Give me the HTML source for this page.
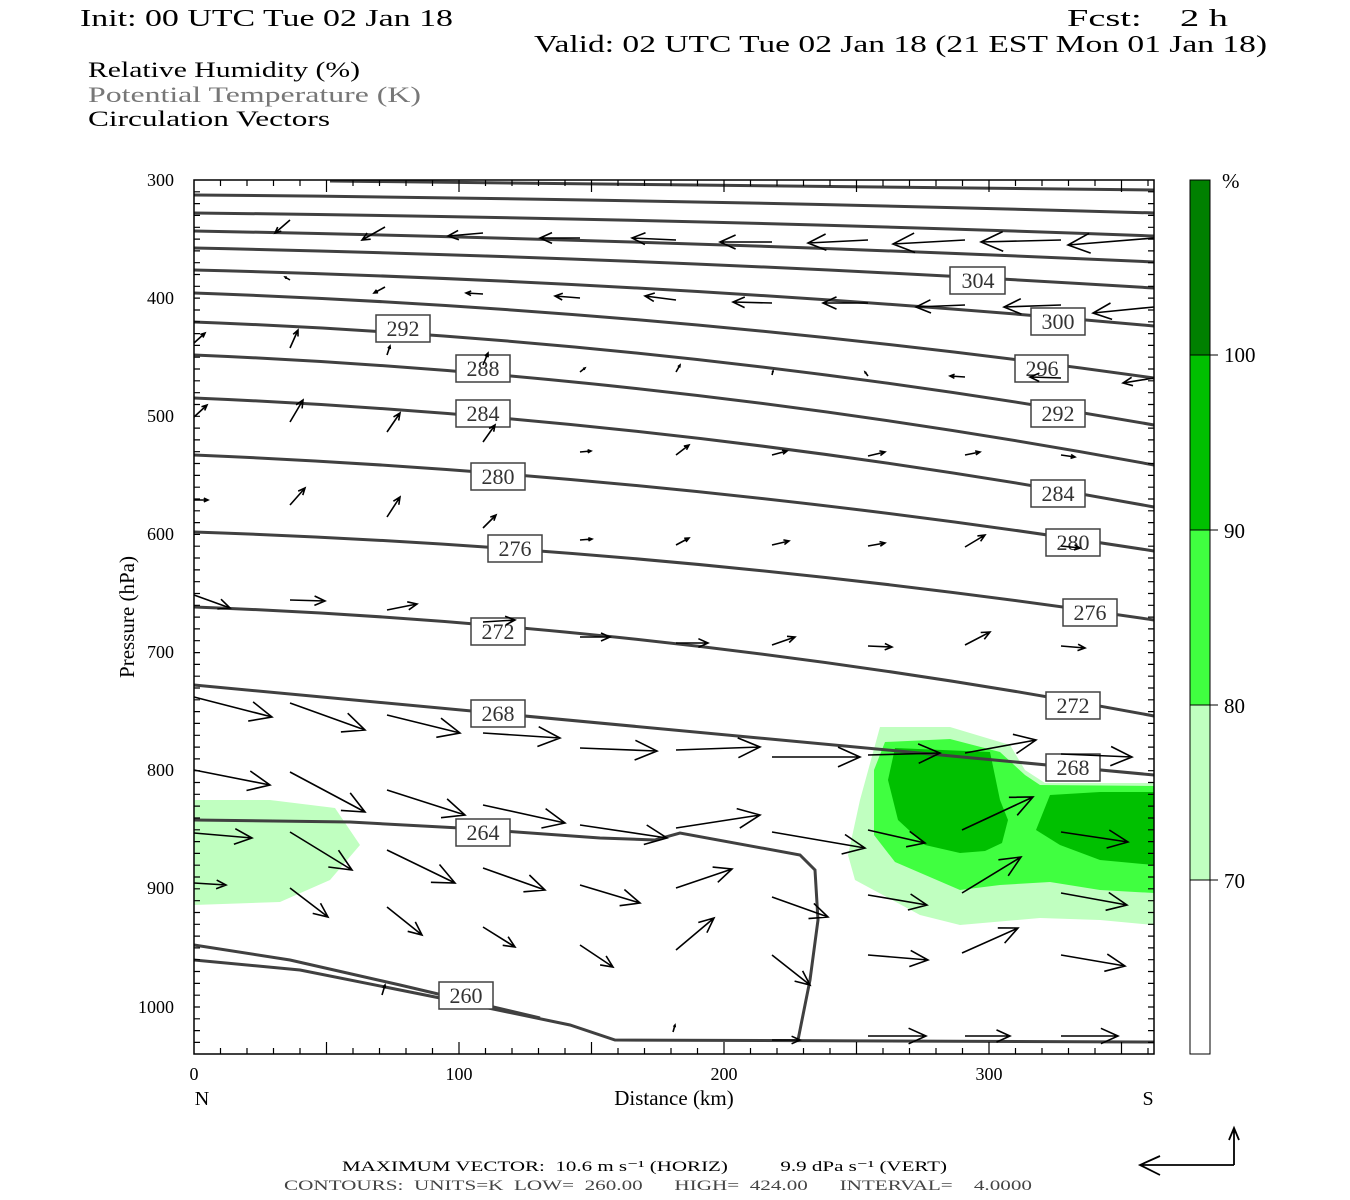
<!DOCTYPE html>
<html><head><meta charset="utf-8"><style>
html,body{margin:0;padding:0;background:#fff;}
svg{display:block;font-family:"Liberation Serif",serif;}
svg text{white-space:pre;}
</style></head><body>
<svg id="s" width="1350" height="1200" viewBox="0 0 1350 1200" xmlns="http://www.w3.org/2000/svg" xml:space="preserve">
<rect width="1350" height="1200" fill="#fff"/>
<text x="80" y="26" font-size="24" textLength="373" lengthAdjust="spacingAndGlyphs">Init: 00 UTC Tue 02 Jan 18</text>
<text x="1067" y="26" font-size="24" textLength="161" lengthAdjust="spacingAndGlyphs">Fcst:    2 h</text>
<text x="534" y="52" font-size="24" textLength="733" lengthAdjust="spacingAndGlyphs">Valid: 02 UTC Tue 02 Jan 18 (21 EST Mon 01 Jan 18)</text>
<text x="88" y="77" font-size="22" textLength="272" lengthAdjust="spacingAndGlyphs">Relative Humidity (%)</text>
<text x="88" y="102" font-size="22" fill="#777" textLength="333" lengthAdjust="spacingAndGlyphs">Potential Temperature (K)</text>
<text x="88" y="126" font-size="22" textLength="242" lengthAdjust="spacingAndGlyphs">Circulation Vectors</text>

<g stroke="none">
<polygon fill="#c0ffc0" points="194,800 270,800 335,808 360,845 330,880 280,902 194,905"/>
<polygon fill="#c0ffc0" points="880,727 950,727 1010,745 1025,770 1045,783 1154,783 1154,925 1100,920 1040,918 960,925 920,915 855,880 848,855 860,800"/>
<polygon fill="#40ff40" points="885,742 950,739 1000,752 1025,775 1040,785 1154,786 1154,893 1100,890 1050,882 1000,885 960,890 895,862 874,835 874,770"/>
<polygon fill="#00c000" points="895,748 990,752 1000,800 1008,820 1002,843 985,851 960,853 925,845 898,820 888,780"/>
<polygon fill="#00c000" points="1050,795 1100,792 1154,792 1154,865 1100,860 1060,845 1036,830"/>
</g>

<g fill="none" stroke="#404040" stroke-width="3">
<path d="M330,181 Q740,184 1154,190"/>
<path d="M194,195 Q670,199 1154,213"/>
<path d="M194,213 Q670,218 1154,236"/>
<path d="M194,231 Q670,240 1154,262"/>
<path d="M194,248 Q670,258 1154,288"/>
<path d="M194,270 Q670,282 1154,326"/>
<path d="M194,293 Q670,310 1154,378"/>
<path d="M194,322 Q670,340 1154,425"/>
<path d="M194,355 Q670,375 1154,465"/>
<path d="M194,398 Q670,418 1154,507"/>
<path d="M194,455 Q670,475 1154,551"/>
<path d="M194,532 Q670,548 1154,620"/>
<path d="M194,607 Q670,625 1154,716"/>
<path d="M194,685 Q670,730 1154,775"/>
<path d="M194,820 L350,822 L460,828 L600,838 L655,840 L680,833 L800,855 L815,870 L818,920 L810,980 L798,1040"/>
<path d="M194,945 L290,960 L400,985 L540,1018"/>
<path d="M194,960 L300,970 L450,1000 L570,1025 L615,1040 L1154,1042"/>
</g>

<g font-size="22" fill="#333" text-anchor="middle">
<g stroke="#404040" stroke-width="1.5" fill="#fff">
<rect x="950" y="267" width="55" height="27"/><rect x="1031" y="308" width="54" height="27"/>
<rect x="1015" y="355" width="53" height="27"/><rect x="1031" y="400" width="54" height="27"/>
<rect x="1031" y="480" width="54" height="27"/><rect x="1046" y="529" width="54" height="27"/>
<rect x="1063" y="599" width="54" height="27"/><rect x="1046" y="692" width="54" height="27"/>
<rect x="1046" y="754" width="54" height="27"/>
<rect x="376" y="315" width="54" height="27"/><rect x="456" y="355" width="54" height="27"/>
<rect x="456" y="400" width="54" height="27"/><rect x="471" y="463" width="54" height="27"/>
<rect x="488" y="535" width="54" height="27"/><rect x="471" y="618" width="54" height="27"/>
<rect x="471" y="700" width="54" height="27"/><rect x="456" y="819" width="54" height="27"/>
<rect x="439" y="982" width="54" height="27"/>
</g>
<text x="978" y="288">304</text><text x="1058" y="329">300</text><text x="1042" y="376">296</text>
<text x="1058" y="421">292</text><text x="1058" y="501">284</text><text x="1073" y="550">280</text>
<text x="1090" y="620">276</text><text x="1073" y="713">272</text><text x="1073" y="775">268</text>
<text x="403" y="336">292</text><text x="483" y="376">288</text><text x="483" y="421">284</text>
<text x="498" y="484">280</text><text x="515" y="556">276</text><text x="498" y="639">272</text>
<text x="498" y="721">268</text><text x="483" y="840">264</text><text x="466" y="1003">260</text>
</g>

<g id="arrows" stroke="#000" stroke-width="1.6" fill="none"></g>

<rect x="194" y="180" width="960" height="874" fill="none" stroke="#000" stroke-width="1.5"/>
<g id="ticks" stroke="#000" stroke-width="1.2"></g>
<g font-size="18" text-anchor="end">
<text x="174" y="186">300</text><text x="174" y="304">400</text><text x="174" y="422">500</text>
<text x="174" y="540">600</text><text x="174" y="658">700</text><text x="174" y="776">800</text>
<text x="174" y="894">900</text><text x="174" y="1013">1000</text>
</g>
<g font-size="18" text-anchor="middle">
<text x="194" y="1080">0</text><text x="459" y="1080">100</text><text x="724" y="1080">200</text><text x="989" y="1080">300</text>
<text x="202" y="1105" font-size="20">N</text><text x="1148" y="1105" font-size="20">S</text>
<text x="674" y="1105" font-size="21">Distance (km)</text>
</g>
<text transform="translate(134,617) rotate(-90)" font-size="21" text-anchor="middle">Pressure (hPa)</text>

<g stroke="#000" stroke-width="1">
<rect x="1190" y="180" width="20" height="175" fill="#008000"/>
<rect x="1190" y="355" width="20" height="175" fill="#00c000"/>
<rect x="1190" y="530" width="20" height="175" fill="#40ff40"/>
<rect x="1190" y="705" width="20" height="175" fill="#c0ffc0"/>
<rect x="1190" y="880" width="20" height="174" fill="#fff"/>
<line x1="1210" y1="355" x2="1218" y2="355"/><line x1="1210" y1="530" x2="1218" y2="530"/>
<line x1="1210" y1="705" x2="1218" y2="705"/><line x1="1210" y1="880" x2="1218" y2="880"/>
</g>
<g font-size="21">
<text x="1222" y="188">%</text><text x="1224" y="362">100</text><text x="1224" y="538">90</text>
<text x="1224" y="713">80</text><text x="1224" y="888">70</text>
</g>

<text x="342" y="1171" font-size="15" textLength="605" lengthAdjust="spacingAndGlyphs">MAXIMUM VECTOR:  10.6 m s⁻¹ (HORIZ)          9.9 dPa s⁻¹ (VERT)</text>
<text x="284" y="1190" font-size="15" fill="#444" textLength="748" lengthAdjust="spacingAndGlyphs">CONTOURS:  UNITS=K  LOW=  260.00      HIGH=  424.00      INTERVAL=    4.0000</text>
<g stroke="#000" stroke-width="1.8" fill="none">
<path d="M1234,1165 L1234,1128 M1229,1140 L1234,1128 L1239,1140"/>
<path d="M1234,1165 L1140,1165 M1160,1156 L1140,1165 L1160,1175"/>
</g>
</svg>
<script>
var ns="http://www.w3.org/2000/svg";
var A=[[290,220,275,233],[385,227,362,240],[483,233,448,236],[580,238,540,238],[676,240,632,238],[772,242,720,242],[868,240,808,243],[965,240,893,244],[1061,240,981,242],[1154,238,1068,245],
[290,280,285,277],[385,287,374,293],[483,294,466,293],[580,298,555,296],[676,300,645,296],[772,303,733,302],[868,303,823,303],[965,305,916,307],[1061,305,1004,307],[1154,307,1093,313],
[194,343,205,333],[290,348,298,330],[387,355,390,346],[483,365,488,353],[580,372,585,368],[676,372,680,365],[772,375,773,371],[868,376,865,372],[965,377,950,376],[1061,378,1030,377],[1154,378,1123,383],
[194,417,207,405],[290,422,303,400],[387,432,400,413],[483,442,495,425],[580,452,591,451],[676,455,689,445],[772,455,787,451],[868,456,885,452],[965,455,980,452],[1061,455,1075,457],
[194,500,208,500],[290,505,305,488],[387,517,400,497],[483,528,496,515],[580,540,592,539],[676,545,689,538],[772,545,789,541],[868,546,885,543],[965,547,985,535],[1061,546,1080,548],
[194,595,230,608],[290,600,325,601],[387,610,417,604],[483,622,515,620],[580,637,610,637],[676,643,708,643],[772,645,795,637],[868,646,892,647],[965,645,990,632],[1061,646,1085,648],
[194,697,272,717],[290,703,365,730],[387,715,460,733],[483,733,560,738],[580,748,657,751],[676,750,760,747],[772,757,860,757],[868,755,940,753],[965,753,1036,740],[1061,754,1132,757],
[194,770,270,785],[290,772,365,812],[387,790,465,815],[483,805,565,823],[580,825,667,838],[676,828,760,815],[772,832,865,848],[868,830,925,843],[962,830,1033,797],[1061,832,1128,842],
[194,833,252,838],[290,832,352,870],[387,850,455,883],[483,868,545,890],[580,885,640,903],[676,888,732,869],[772,897,828,917],[868,895,927,905],[962,893,1021,857],[1061,893,1127,905],
[194,883,226,885],[290,888,328,917],[387,907,422,935],[483,927,515,947],[580,945,613,967],[676,950,714,918],[772,955,810,985],[868,955,928,960],[962,953,1018,928],[1061,955,1125,966],
[772,1040,800,1040],[868,1036,926,1036],[965,1036,1010,1036],[1061,1036,1118,1036],[673,1032,675,1025],[382,995,385,985]];
var g=document.getElementById("arrows"),d="";
A.forEach(function(a){var dx=a[2]-a[0],dy=a[3]-a[1],L=Math.sqrt(dx*dx+dy*dy);if(!L)return;
var ux=dx/L,uy=dy/L,h=Math.min(0.3*L,22),w=h*0.45;
d+="M"+a[0]+","+a[1]+"L"+a[2]+","+a[3];
d+="M"+(a[2]-ux*h+uy*w).toFixed(1)+","+(a[3]-uy*h-ux*w).toFixed(1)+"L"+a[2]+","+a[3]+"L"+(a[2]-ux*h-uy*w).toFixed(1)+","+(a[3]-uy*h+ux*w).toFixed(1);});
var p=document.createElementNS(ns,"path");p.setAttribute("d",d);g.appendChild(p);
var t=document.getElementById("ticks"),td="";
for(var pr=310;pr<1040;pr+=10){var y=180+(pr-300)*1.1814;if(y>1052)break;
td+="M194,"+y.toFixed(1)+"h6M1154,"+y.toFixed(1)+"h-6";}
for(var k=10;k<362;k+=10){var x=194+k*2.65,l=(k%50==0)?12:6;td+="M"+x.toFixed(1)+",180v"+l+"M"+x.toFixed(1)+",1054v-"+l;}
var tp=document.createElementNS(ns,"path");tp.setAttribute("d",td);t.appendChild(tp);
</script>
</body></html>
